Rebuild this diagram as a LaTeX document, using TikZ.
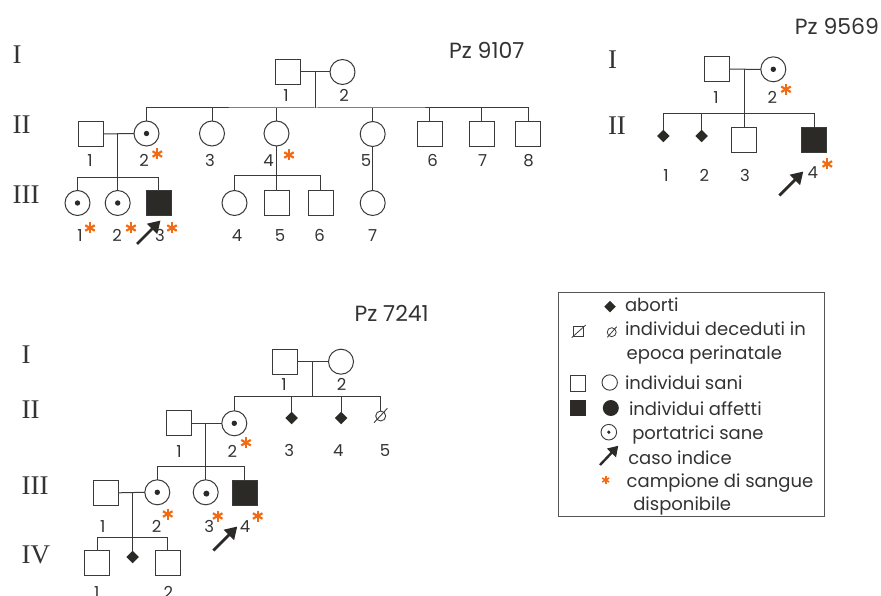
\documentclass[tikz,border=0pt]{standalone}
\usepackage{fontspec}
\setmainfont{Poppins}
\newfontfamily\romanfont{Liberation Serif}
\usetikzlibrary{shapes.geometric,arrows.meta}

\definecolor{linec}{HTML}{3A3A3A}
\definecolor{affc}{HTML}{2B2A27}
\definecolor{starc}{HTML}{F26B13}
\definecolor{textc}{HTML}{333333}
\definecolor{framec}{HTML}{555555}

\tikzset{
  every node/.style={inner sep=0pt, outer sep=0pt},
  male/.style={draw=linec, line width=1pt, rectangle, minimum size=25pt, fill=white},
  female/.style={draw=linec, line width=1pt, circle, minimum size=25pt, fill=white},
  affmale/.style={male, fill=affc},
  carrier/.style={female, path picture={\fill[affc] (path picture bounding box.center) circle (2.7pt);}},
  abort/.style={diamond, fill=affc, minimum size=12.5pt},
  perinatal/.style={draw=linec, line width=0.9pt, circle, minimum size=10pt},
  lineage/.style={draw=linec, line width=1pt},
  num/.style={font=\fontsize{16.5}{16.5}\selectfont, text=textc, anchor=base},
  gen/.style={font=\romanfont\fontsize{27}{27}\selectfont, text=textc, anchor=base west},
  title/.style={font=\fontsize{22}{22}\selectfont, text=textc, anchor=base},
  legtext/.style={font=\fontsize{18}{18}\selectfont, text=textc, anchor=base west},
  proband/.style={line width=2.8pt, draw=affc, -{Triangle[length=12pt,width=14pt]}},
  bstar/.pic={\foreach \a in {90,30,150}{\draw[starc, line width=2.2pt] (\a:5.5pt) -- (\a+180:5.5pt);}},
  sstar/.pic={\foreach \a in {90,30,150}{\draw[starc, line width=1.6pt] (\a:4pt) -- (\a+180:4pt);}}
}

\begin{document}
\begin{tikzpicture}[x=1pt,y=-1pt]
\path[use as bounding box] (0,0) rectangle (881,596);
\clip (0,0) rectangle (881,596);

% ---------------- Pz 9107 ----------------
\node[title] (t9107) at (486.7,58.3) {Pz 9107};
\node[gen] (g9107a) at (12.7,63.3) {I};
\node[gen] (g9107b) at (12.7,133.3) {II};
\node[gen] (g9107c) at (12.7,204) {III};

\node[male]   (a-I1) at (288,72) {};
\node[female] (a-I2) at (342.5,72) {};
\coordinate (a-m1) at (315.7,72);
\coordinate (a-s1) at (315.7,108);
\draw[lineage] (a-I1.east) -- (a-I2.west);
\draw[lineage] (a-m1) -- (a-s1);

\node[male]    (a-II1) at (90.7,134) {};
\node[carrier] (a-II2) at (146.5,133.5) {};
\node[female]  (a-II3) at (212,133.5) {};
\node[female]  (a-II4) at (276.5,133.5) {};
\node[female]  (a-II5) at (372.7,134) {};
\node[male]    (a-II6) at (429.5,134) {};
\node[male]    (a-II7) at (481.5,134) {};
\node[male]    (a-II8) at (528.3,134) {};
\draw[lineage] (a-II2.north) |- (a-s1) -| (a-II8.north);
\foreach \n in {II3,II4,II5,II6,II7}{\draw[lineage] (a-\n.north) -- (a-\n.north |- a-s1);}

\coordinate (a-m2) at (117.7,133.5);
\coordinate (a-s2) at (117.7,177.3);
\draw[lineage] (a-II1.east) -- (a-II2.west);
\draw[lineage] (a-m2) -- (a-s2);
\node[carrier] (a-III1) at (77.5,203) {};
\node[carrier] (a-III2) at (117.7,203) {};
\node[affmale] (a-III3) at (158.5,203.3) {};
\draw[lineage] (a-III1.north) |- (a-s2) -| (a-III3.north);
\draw[lineage] (a-s2) -- (a-III2.north);

\coordinate (a-s4) at (276.5,175.7);
\draw[lineage] (a-II4.south) -- (a-s4);
\node[female] (a-III4) at (234.5,203) {};
\node[male]   (a-III5) at (276.5,203.3) {};
\node[male]   (a-III6) at (320.5,203.3) {};
\draw[lineage] (a-III4.north) |- (a-s4) -| (a-III6.north);
\draw[lineage] (a-s4) -- (a-III5.north);
\node[female] (a-III7) at (372.7,203) {};
\draw[lineage] (a-II5.south) -- (a-III7.north);

\node[num] (a-l-I1) at (286,101.5) {1};
\node[num] (a-l-I2) at (344,101.5) {2};
\node[num] (a-l-II1) at (90,166.7) {1};
\node[num] (a-l-II2) at (144,166.7) {2};
\node[num] (a-l-II3) at (210,166.7) {3};
\node[num] (a-l-II4) at (268.5,166.7) {4};
\node[num] (a-l-II5) at (366,166.7) {5};
\node[num] (a-l-II6) at (432.7,166.7) {6};
\node[num] (a-l-II7) at (482.7,166.7) {7};
\node[num] (a-l-II8) at (528.7,166.7) {8};
\node[num] (a-l-III1) at (80,241.7) {1};
\node[num] (a-l-III2) at (117,241.7) {2};
\node[num] (a-l-III3) at (160,241.7) {3};
\node[num] (a-l-III4) at (237,241.7) {4};
\node[num] (a-l-III5) at (280,241.7) {5};
\node[num] (a-l-III6) at (319.5,241.7) {6};
\node[num] (a-l-III7) at (372.7,241.7) {7};

\pic at (157.3,154) {bstar};
\pic at (289,155) {bstar};
\pic at (90,228) {bstar};
\pic at (131,228) {bstar};
\pic at (172,228) {bstar};

\coordinate (a-pb) at (137,244);
\draw[proband] (a-pb) -- ++(23.5,-23.5);

% ---------------- Pz 9569 ----------------
\node[title] (t9569) at (837,34.3) {Pz 9569};
\node[gen] (g9569a) at (608,68.3) {I};
\node[gen] (g9569b) at (608,135) {II};

\node[male]    (b-I1) at (716.7,69.2) {};
\node[carrier] (b-I2) at (773.3,69.3) {};
\coordinate (b-m1) at (744,69.3);
\coordinate (b-s1) at (744,113.3);
\draw[lineage] (b-I1.east) -- (b-I2.west);
\node[abort]   (b-II1) at (663.3,136) {};
\node[abort]   (b-II2) at (701.7,136) {};
\node[male]    (b-II3) at (744,140.5) {};
\node[affmale] (b-II4) at (814,140.5) {};
\draw[lineage] (b-m1) -- (b-II3.north);
\draw[lineage] (b-II1.north) |- (b-s1) -| (b-II4.north);
\draw[lineage] (b-II2.north) -- (b-II2.north |- b-s1);

\node[num] (b-l-I1) at (716,103.3) {1};
\node[num] (b-l-I2) at (772.3,103.3) {2};
\node[num] (b-l-II1) at (666,181.7) {1};
\node[num] (b-l-II2) at (704.3,181.7) {2};
\node[num] (b-l-II3) at (745,181.7) {3};
\node[num] (b-l-II4) at (812.7,178.3) {4};
\pic at (786,89.3) {bstar};
\pic at (827.3,164) {bstar};

\coordinate (b-pb) at (779.3,195.5);
\draw[proband] (b-pb) -- ++(24,-24);

% ---------------- Pz 7241 ----------------
\node[title] (t7241) at (391.7,321.7) {Pz 7241};
\node[gen] (g7241a) at (21.7,363.3) {I};
\node[gen] (g7241b) at (21.7,418.3) {II};
\node[gen] (g7241c) at (21.7,494) {III};
\node[gen] (g7241d) at (21.7,563.3) {IV};

\node[male]   (c-I1) at (285.2,361.7) {};
\node[female] (c-I2) at (341,361.7) {};
\coordinate (c-m1) at (312.7,361.7);
\coordinate (c-s1) at (312.7,396.7);
\draw[lineage] (c-I1.east) -- (c-I2.west);
\draw[lineage] (c-m1) -- (c-s1);

\node[male]      (c-II1) at (179.2,423.3) {};
\node[carrier]   (c-II2) at (234.3,423.3) {};
\node[abort]     (c-II3) at (291.7,418) {};
\node[abort]     (c-II4) at (341,418) {};
\node[perinatal] (c-II5) at (380.7,416) {};
\draw[linec, line width=0.9pt] (c-II5) ++(-6.7,6.7) -- ++(13.4,-14.4);
\draw[lineage] (c-II2.north) |- (c-s1) -| (c-II5.north);
\draw[lineage] (c-II3.north) -- (c-II3.north |- c-s1);
\draw[lineage] (c-II4.north) -- (c-II4.north |- c-s1);

\coordinate (c-m2) at (205.7,423.3);
\coordinate (c-s2) at (205.7,466.7);
\draw[lineage] (c-II1.east) -- (c-II2.west);
\node[male]    (c-III1) at (106.2,492.8) {};
\node[carrier] (c-III2) at (157.3,492.3) {};
\node[female, path picture={\fill[affc] ([xshift=0.7pt,yshift=-1.3pt]path picture bounding box.center) circle (3pt);}] (c-III3) at (205.7,492.3) {};
\node[affmale] (c-III4) at (244.8,492.8) {};
\draw[lineage] (c-m2) -- (c-III3.north);
\draw[lineage] (c-III2.north) |- (c-s2) -| (c-III4.north);

\coordinate (c-m3) at (132.7,492.3);
\coordinate (c-s3) at (132.7,537.3);
\draw[lineage] (c-III1.east) -- (c-III2.west);
\node[male]  (c-IV1) at (97,563.3) {};
\node[abort] (c-IV2) at (132.7,557) {};
\node[male]  (c-IV3) at (167.5,563.3) {};
\draw[lineage] (c-m3) -- (c-IV2.north);
\draw[lineage] (c-IV1.north) |- (c-s3) -| (c-IV3.north);

\node[num] (c-l-I1) at (284,390.7) {1};
\node[num] (c-l-I2) at (341.7,390.7) {2};
\node[num] (c-l-II1) at (179,457.3) {1};
\node[num] (c-l-II2) at (232.3,457.3) {2};
\node[num] (c-l-II3) at (289.3,456.7) {3};
\node[num] (c-l-II4) at (338.3,456.7) {4};
\node[num] (c-l-II5) at (385,456.7) {5};
\node[num] (c-l-III1) at (102.7,532.7) {1};
\node[num] (c-l-III2) at (156.7,532.7) {2};
\node[num] (c-l-III3) at (209.3,532.7) {3};
\node[num] (c-l-III4) at (245,532.7) {4};
\node[num] (c-l-IV1) at (96.7,598.7) {1};
\node[num] (c-l-IV2) at (168.3,598.7) {2};
\pic at (246,442.7) {bstar};
\pic at (167.7,514) {bstar};
\pic at (217.7,516) {bstar};
\pic at (257.7,516) {bstar};

\coordinate (c-pb) at (213.3,550.5);
\draw[proband] (c-pb) -- ++(24,-24);

% ---------------- Legend ----------------
\node[draw=framec, line width=1pt, rectangle, minimum width=266pt, minimum height=224.4pt, anchor=north west] (legend) at (558.3,292.3) {};

\node[diamond, fill=affc, minimum size=11.5pt] (k-abort) at (610,306.7) {};
\node[legtext] (k-t1) at (625,311.5) {aborti};

\node[draw=linec, line width=0.8pt, rectangle, minimum size=10pt] (k-deadm) at (578.3,331.7) {};
\draw[linec, line width=0.8pt] (k-deadm) ++(-6.6,6) -- ++(14,-12.7);
\node[draw=linec, line width=0.8pt, circle, minimum size=9pt] (k-deadf) at (611.7,332.2) {};
\draw[linec, line width=0.8pt] (k-deadf) ++(-4.4,5.1) -- ++(9.4,-10.6);
\node[legtext] (k-t2) at (625,335.7) {individui deceduti in};
\node[legtext] (k-t3) at (626.7,359) {epoca perinatale};

\node[draw=linec, line width=0.9pt, rectangle, minimum size=15.5pt] (k-sanim) at (578,383.3) {};
\node[draw=linec, line width=0.9pt, circle, minimum size=15.4pt] (k-sanif) at (609.7,382.5) {};
\node[legtext] (k-t4) at (625,389.3) {individui sani};

\node[fill=affc, rectangle, minimum size=16pt] (k-affm) at (578.3,407.8) {};
\node[fill=affc, circle, minimum size=16pt] (k-afff) at (610.8,408) {};
\node[legtext] (k-t5) at (629,415.7) {individui affetti};

\node[draw=linec, line width=0.9pt, circle, minimum size=15.6pt,
      path picture={\fill[affc] (path picture bounding box.center) circle (1.8pt);}] (k-carr) at (608.8,432.2) {};
\node[legtext] (k-t6) at (632.3,439) {portatrici sane};

\coordinate (k-pb) at (600,465);
\draw[line width=2.4pt, draw=affc, -{Triangle[length=10pt,width=12pt]}] (k-pb) -- ++(18.3,-19.3);
\node[legtext] (k-t7) at (628.3,464.3) {caso indice};

\pic at (605.7,480) {sstar};
\node[legtext] (k-t8) at (626.7,487.7) {campione di sangue};
\node[legtext] (k-t9) at (633.3,510) {disponibile};
\end{tikzpicture}
\end{document}
